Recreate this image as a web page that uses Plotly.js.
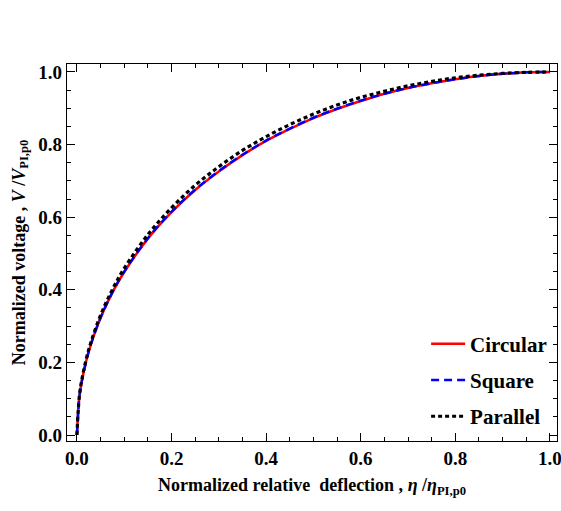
<!DOCTYPE html>
<html>
<head>
<meta charset="utf-8">
<script src="https://cdn.plot.ly/plotly-3.0.1.min.js"></script>
<style>html,body{margin:0;padding:0;background:#fff;}#chart{width:561px;height:511px;}</style>
</head>
<body>
<div id="chart"></div>
<script>
// Normalized relative deflection (x values)
const eta = [0, 0.005, 0.01, 0.02, 0.03, 0.05, 0.075, 0.1, 0.15, 0.2, 0.25, 0.3, 0.35, 0.4, 0.45, 0.5, 0.55, 0.6, 0.65, 0.7, 0.75, 0.8, 0.85, 0.9, 0.95, 1.0];
// Normalized voltage per geometry
const circular = [0, 0.103, 0.146, 0.206, 0.252, 0.323, 0.393, 0.449, 0.541, 0.614, 0.675, 0.726, 0.771, 0.810, 0.843, 0.873, 0.898, 0.920, 0.940, 0.956, 0.969, 0.980, 0.989, 0.995, 0.999, 1.0];
const square   = [0, 0.103, 0.146, 0.206, 0.252, 0.323, 0.393, 0.450, 0.542, 0.615, 0.676, 0.727, 0.772, 0.811, 0.844, 0.874, 0.899, 0.921, 0.940, 0.956, 0.969, 0.980, 0.989, 0.995, 0.999, 1.0];
const parallel = [0, 0.106, 0.150, 0.211, 0.257, 0.330, 0.401, 0.459, 0.552, 0.626, 0.688, 0.739, 0.784, 0.822, 0.855, 0.884, 0.909, 0.930, 0.947, 0.962, 0.974, 0.984, 0.991, 0.996, 0.999, 1.0];
const seriesNames = ["Circular", "Square", "Parallel"];
const xTicks = [0, 0.2, 0.4, 0.6, 0.8, 1.0];
const xTickText = ["0.0", "0.2", "0.4", "0.6", "0.8", "1.0"];
const yTicks = [0, 0.2, 0.4, 0.6, 0.8, 1.0];
const yTickText = ["0.0", "0.2", "0.4", "0.6", "0.8", "1.0"];

const FONT = "Liberation Serif, Times New Roman, serif";

const traces = [
  {x: eta, y: circular, name: seriesNames[0], legendgroup: "a", mode: "lines", line: {color: "#ff0000", width: 2.5, shape: "spline"}},
  {x: eta, y: square, name: seriesNames[1], legendgroup: "b", mode: "lines", line: {color: "#0000ff", width: 2.5, dash: "8px,5px", shape: "spline"}},
  {x: eta, y: parallel, name: seriesNames[2], legendgroup: "c", mode: "lines", line: {color: "#000000", width: 3.2, dash: "4px,3px", shape: "spline"}}
];

const axisCommon = {
  showgrid: false, zeroline: false, showline: true, linecolor: "#000", linewidth: 1.2,
  mirror: "allticks", ticks: "inside", ticklen: 8, tickwidth: 1, tickcolor: "#000",
  ticklabeloverflow: "allow",
  tickfont: {family: FONT, size: 19, color: "#000", weight: "bold"},
  minor: {dtick: 0.05, ticks: "inside", ticklen: 4, tickwidth: 1, tickcolor: "#000", showgrid: false}
};

const layout = {
  width: 561, height: 511,
  margin: {l: 67, r: 4, t: 64, b: 70},
  paper_bgcolor: "#fff", plot_bgcolor: "#fff",
  font: {family: FONT, color: "#000"},
  showlegend: true,
  legend: {
    x: 0.99, y: 0.012, xanchor: "right", yanchor: "bottom",
    bgcolor: "rgba(0,0,0,0)", borderwidth: 0,
    font: {family: FONT, size: 21, color: "#000", weight: "bold"},
    tracegroupgap: 6, itemwidth: 34
  },
  xaxis: Object.assign({}, axisCommon, {
    range: [-0.021, 1.015], tickvals: xTicks, ticktext: xTickText,
    title: {text: "Normalized relative  deflection , <i>η</i> /<i>η</i><sub>PI,p0</sub>", font: {family: FONT, size: 18, color: "#000", weight: "bold"}, standoff: 10}
  }),
  yaxis: Object.assign({}, axisCommon, {
    range: [-0.0165, 1.022], tickvals: yTicks, ticktext: yTickText,
    title: {text: "Normalized voltage , <i>V</i> /<i>V</i><sub>PI,p0</sub>", font: {family: FONT, size: 18, color: "#000", weight: "bold"}, standoff: 8}
  })
};

Plotly.newPlot("chart", traces, layout, {displayModeBar: false, staticPlot: true});
</script>
</body>
</html>
